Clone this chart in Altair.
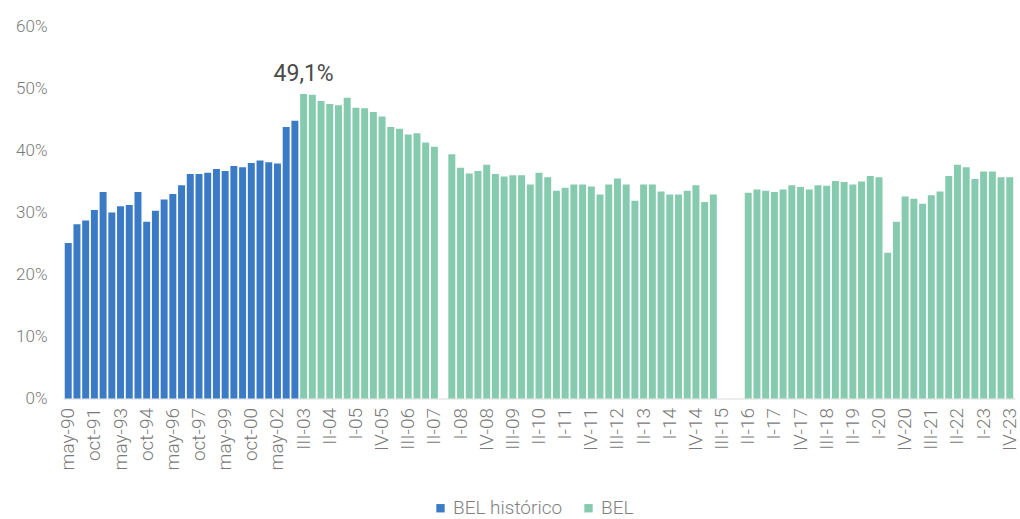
import altair as alt
import pandas as pd

# Semiannual historical series (May / October readings), in percent
blue_periods = [
    "may-90", "oct-90", "may-91", "oct-91", "may-92", "oct-92", "may-93",
    "oct-93", "may-94", "oct-94", "may-95", "oct-95", "may-96", "oct-96",
    "may-97", "oct-97", "may-98", "oct-98", "may-99", "oct-99", "may-00",
    "oct-00", "may-01", "oct-01", "may-02", "oct-02", "may-03",
]
blue_values = [
    25.1, 28.1, 28.7, 30.4, 33.3, 30.0, 31.0, 31.2, 33.3, 28.5, 30.3, 32.1,
    33.0, 34.4, 36.2, 36.2, 36.4, 37.0, 36.7, 37.5, 37.3, 38.0, 38.4, 38.1,
    37.9, 43.8, 44.8,
]

# Quarterly series, in percent (None = no observation)
green_periods = [
    "III-03", "IV-03",
    "I-04", "II-04", "III-04", "IV-04",
    "I-05", "II-05", "III-05", "IV-05",
    "I-06", "II-06", "III-06", "IV-06",
    "I-07", "II-07", "III-07", "IV-07",
    "I-08", "II-08", "III-08", "IV-08",
    "I-09", "II-09", "III-09", "IV-09",
    "I-10", "II-10", "III-10", "IV-10",
    "I-11", "II-11", "III-11", "IV-11",
    "I-12", "II-12", "III-12", "IV-12",
    "I-13", "II-13", "III-13", "IV-13",
    "I-14", "II-14", "III-14", "IV-14",
    "I-15", "II-15", "III-15", "IV-15",
    "I-16", "II-16", "III-16", "IV-16",
    "I-17", "II-17", "III-17", "IV-17",
    "I-18", "II-18", "III-18", "IV-18",
    "I-19", "II-19", "III-19", "IV-19",
    "I-20", "II-20", "III-20", "IV-20",
    "I-21", "II-21", "III-21", "IV-21",
    "I-22", "II-22", "III-22", "IV-22",
    "I-23", "II-23", "III-23", "IV-23",
]
green_values = [
    49.1, 49.0,
    48.0, 47.5, 47.3, 48.5,
    46.9, 46.8, 46.2, 45.5,
    43.8, 43.5, 42.6, 42.8,
    41.3, 40.6, None, 39.4,
    37.2, 36.3, 36.7, 37.7,
    36.2, 35.8, 36.0, 36.0,
    34.5, 36.4, 35.7, 33.5,
    34.0, 34.5, 34.5, 34.2,
    32.9, 34.5, 35.5, 34.5,
    31.9, 34.5, 34.5, 33.4,
    32.9, 32.9, 33.5, 34.4,
    31.7, 32.9, None, None,
    None, 33.2, 33.7, 33.5,
    33.3, 33.7, 34.4, 34.1,
    33.7, 34.4, 34.3, 35.1,
    34.9, 34.5, 35.0, 35.9,
    35.7, 23.5, 28.5, 32.6,
    32.2, 31.4, 32.8, 33.4,
    35.9, 37.7, 37.3, 35.4,
    36.6, 36.6, 35.7, 35.7,
]

tick_labels = [
    "may-90", "oct-91", "may-93", "oct-94", "may-96", "oct-97", "may-99",
    "oct-00", "may-02", "III-03", "II-04", "I-05", "IV-05", "III-06",
    "II-07", "I-08", "IV-08", "III-09", "II-10", "I-11", "IV-11", "III-12",
    "II-13", "I-14", "IV-14", "III-15", "II-16", "I-17", "IV-17", "III-18",
    "II-19", "I-20", "IV-20", "III-21", "II-22", "I-23", "IV-23",
]

series_names = ["BEL histórico", "BEL"]
series_colors = ["#3b7bc6", "#86cbb0"]
highlight_period = "III-03"

all_periods = blue_periods + green_periods

rows = []
for p, v in zip(blue_periods, blue_values):
    rows.append({"period": p, "value": v, "series": series_names[0]})
for p, v in zip(green_periods, green_values):
    if v is not None:
        rows.append({"period": p, "value": v, "series": series_names[1]})
df = pd.DataFrame(rows)

lab = df[df["period"] == highlight_period].copy()
lab["label"] = lab["value"].map(lambda v: f"{v:.1f}%".replace(".", ","))

FONT = "Roboto"
AXIS_GRAY = "#7a7a7a"

x_enc = alt.X(
    "period:N",
    scale=alt.Scale(domain=all_periods, paddingInner=0.2, paddingOuter=0.2),
    axis=alt.Axis(
        values=tick_labels,
        labelAngle=-90,
        title=None,
        ticks=False,
        domainColor="#d9d9d9",
        labelFont=FONT,
        labelFontSize=19,
        labelFontWeight=300,
        labelColor=AXIS_GRAY,
        labelPadding=9,
        labelOverlap=False,
    ),
)
y_enc = alt.Y(
    "value:Q",
    scale=alt.Scale(domain=[0, 60]),
    axis=alt.Axis(
        values=[0, 10, 20, 30, 40, 50, 60],
        labelExpr="datum.value + '%'",
        grid=False,
        domain=False,
        ticks=False,
        title=None,
        labelFont=FONT,
        labelFontSize=17,
        labelFontWeight=300,
        labelColor=AXIS_GRAY,
        labelPadding=16,
    ),
)

bars = alt.Chart(df).mark_bar().encode(
    x=x_enc,
    y=y_enc,
    color=alt.Color(
        "series:N",
        scale=alt.Scale(domain=series_names, range=series_colors),
        legend=alt.Legend(
            title=None,
            orient="none",
            legendX=368,
            legendY=472,
            direction="horizontal",
            symbolType="square",
            symbolSize=70,
            symbolStrokeWidth=0,
            labelFont=FONT,
            labelFontSize=19,
            labelFontWeight=300,
            labelColor="#7f7f7f",
            labelOffset=3,
            columnPadding=16,
        ),
    ),
)

note = alt.Chart(lab).mark_text(
    font=FONT, fontSize=23, color="#4a4a4a", baseline="alphabetic", dy=-13
).encode(
    x=alt.X("period:N"),
    y=alt.Y("value:Q"),
    text="label:N",
)

chart = (
    alt.layer(bars, note)
    .properties(
        width=952,
        height=372,
        autosize=alt.AutoSizeParams(type="none"),
        padding={"left": 63, "top": 26.5, "right": 5, "bottom": 120.5},
        background="white",
    )
    .configure_view(stroke=None)
)

chart.save("out.html", embed_options={"renderer": "svg", "actions": False})
